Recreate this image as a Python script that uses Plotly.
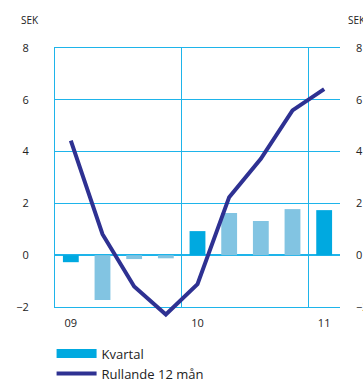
import plotly.graph_objects as go

quarters = ["Q1 09", "Q2 09", "Q3 09", "Q4 09", "Q1 10", "Q2 10", "Q3 10", "Q4 10", "Q1 11"]
kvartal = [-0.27, -1.73, -0.15, -0.12, 0.93, 1.63, 1.32, 1.78, 1.74]
rullande = [4.42, 0.81, -1.21, -2.29, -1.12, 2.24, 3.72, 5.59, 6.41]
tick_labels = ["09", "10", "11"]
tick_idx = [0, 4, 8]
year_breaks = [3.5, 7.5]

DARK = "#00A9E0"
LIGHT = "#82C4E2"
NAVY = "#2E3192"
GRID = "#1EB4EA"
TXT = "#222222"

x = list(range(len(quarters)))
bar_colors = [DARK if i in tick_idx else LIGHT for i in x]

Y_MIN, Y_MAX = -2, 8
main_bottom = 14 / 273
ext_min = Y_MIN - (Y_MAX - Y_MIN) * main_bottom / (1 - main_bottom)

fig = go.Figure()
fig.add_trace(go.Bar(x=x, y=kvartal, marker=dict(color=bar_colors, line=dict(width=0)),
                     width=0.5, showlegend=False, name="Kvartal"))
fig.add_trace(go.Scatter(x=[None], y=[None], xaxis="x2", yaxis="y2", showlegend=False,
                         hoverinfo="skip"))
fig.add_trace(go.Scatter(x=x, y=rullande, xaxis="x3", yaxis="y3", mode="lines",
                         line=dict(color=NAVY, width=4), showlegend=False,
                         name="Rullande 12 mån"))
fig.add_trace(go.Scatter(x=[None], y=[None], mode="lines", line=dict(color=DARK, width=9),
                         name="Kvartal"))
fig.add_trace(go.Scatter(x=[None], y=[None], mode="lines", line=dict(color=NAVY, width=4),
                         name="Rullande 12 mån"))

fig.update_layout(
    width=363, height=381,
    margin=dict(l=55, r=23, t=48, b=60, autoexpand=False),
    paper_bgcolor="white", plot_bgcolor="rgba(0,0,0,0)",
    font=dict(family="Open Sans, Noto Sans, sans-serif", color=TXT, size=11),
    bargap=0.5,
    hovermode=False,
    xaxis=dict(range=[-0.5, 8.5], tickvals=tick_idx, ticktext=tick_labels, showgrid=False,
               zeroline=False, showline=True, linecolor=GRID, linewidth=1, mirror=True,
               ticks="", ticklabelstandoff=6, automargin=False, anchor="y"),
    xaxis2=dict(range=[-0.5, 8.5], overlaying="x", side="top", tickvals=year_breaks,
                showticklabels=False, showgrid=True, gridcolor=GRID, gridwidth=1,
                zeroline=False, showline=False, ticks="", automargin=False, anchor="y2"),
    xaxis3=dict(range=[-0.5, 8.5], visible=False, anchor="y3", domain=[0, 1]),
    yaxis=dict(range=[Y_MIN, Y_MAX], dtick=2, tick0=-2, showgrid=True, gridcolor=GRID, gridwidth=1,
               zeroline=True, zerolinecolor=GRID, zerolinewidth=1.5, domain=[main_bottom, 1],
               showline=True, linecolor=GRID, linewidth=1, ticks="",
               ticklabelstandoff=23, automargin=False, anchor="x"),
    yaxis2=dict(range=[Y_MIN, Y_MAX], dtick=2, tick0=-2, overlaying="y", side="right", showgrid=False,
                zeroline=False, showline=False, ticks="", ticklabelstandoff=15, automargin=False,
                anchor="x2"),
    yaxis3=dict(range=[ext_min, Y_MAX], visible=False, domain=[0, 1], anchor="x3"),
    legend=dict(x=-0.012, xref="paper", xanchor="left", y=-0.0645, yanchor="top",
                font=dict(size=13), itemwidth=40, tracegroupgap=0, bgcolor="rgba(0,0,0,0)"),
    annotations=[
        dict(text="SEK", xref="paper", yref="paper", x=-0.05, y=1.104, xanchor="right",
             yanchor="middle", showarrow=False, font=dict(size=10)),
        dict(text="SEK", xref="paper", yref="paper", x=1.02, y=1.104, xanchor="left",
             yanchor="middle", showarrow=False, font=dict(size=10)),
    ],
)

fig.write_html("out.html", config={"staticPlot": True, "displayModeBar": False})
